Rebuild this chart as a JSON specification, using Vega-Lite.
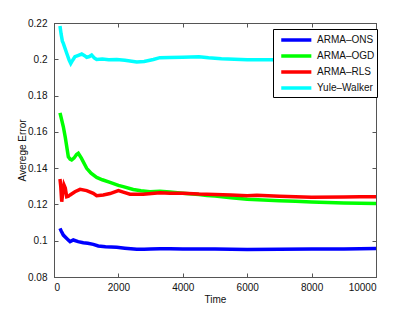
{
  "$schema": "https://vega.github.io/schema/vega-lite/v6.json",
  "width": 322,
  "height": 254,
  "autosize": "none",
  "padding": {"left": 54, "top": 23, "right": 39, "bottom": 35},
  "background": "white",
  "config": {
    "font": "Liberation Sans",
    "view": {"stroke": "#555555", "strokeWidth": 1},
    "axis": {
      "grid": false,
      "domainColor": "#555555",
      "tickColor": "#555555",
      "tickSize": -4,
      "labelFont": "Liberation Sans",
      "labelFontSize": 10,
      "labelColor": "#111111",
      "titleFont": "Liberation Sans",
      "titleFontSize": 10,
      "titleFontWeight": "normal",
      "titleColor": "#111111"
    },
    "legend": {
      "labelFont": "Liberation Sans",
      "labelFontSize": 10,
      "labelColor": "#111111"
    }
  },
  "data": {
    "values": [
      {"s": "ARMA–ONS", "t": 186, "e": 0.1068},
      {"s": "ARMA–ONS", "t": 220, "e": 0.1055},
      {"s": "ARMA–ONS", "t": 290, "e": 0.1031},
      {"s": "ARMA–ONS", "t": 380, "e": 0.1015},
      {"s": "ARMA–ONS", "t": 450, "e": 0.1003},
      {"s": "ARMA–ONS", "t": 500, "e": 0.0995},
      {"s": "ARMA–ONS", "t": 600, "e": 0.1004},
      {"s": "ARMA–ONS", "t": 750, "e": 0.0995},
      {"s": "ARMA–ONS", "t": 910, "e": 0.0989},
      {"s": "ARMA–ONS", "t": 1050, "e": 0.0986},
      {"s": "ARMA–ONS", "t": 1220, "e": 0.0980},
      {"s": "ARMA–ONS", "t": 1375, "e": 0.0971},
      {"s": "ARMA–ONS", "t": 1600, "e": 0.0967},
      {"s": "ARMA–ONS", "t": 1950, "e": 0.0964},
      {"s": "ARMA–ONS", "t": 2200, "e": 0.0959},
      {"s": "ARMA–ONS", "t": 2570, "e": 0.0953},
      {"s": "ARMA–ONS", "t": 2800, "e": 0.0953},
      {"s": "ARMA–ONS", "t": 3000, "e": 0.0954},
      {"s": "ARMA–ONS", "t": 3290, "e": 0.0956},
      {"s": "ARMA–ONS", "t": 3600, "e": 0.0956},
      {"s": "ARMA–ONS", "t": 4000, "e": 0.0954},
      {"s": "ARMA–ONS", "t": 4500, "e": 0.0955},
      {"s": "ARMA–ONS", "t": 5000, "e": 0.0955},
      {"s": "ARMA–ONS", "t": 5500, "e": 0.0953},
      {"s": "ARMA–ONS", "t": 6000, "e": 0.0951},
      {"s": "ARMA–ONS", "t": 7000, "e": 0.0953},
      {"s": "ARMA–ONS", "t": 8000, "e": 0.0955},
      {"s": "ARMA–ONS", "t": 9000, "e": 0.0955},
      {"s": "ARMA–ONS", "t": 9500, "e": 0.0956},
      {"s": "ARMA–ONS", "t": 10000, "e": 0.0957},

      {"s": "ARMA–OGD", "t": 186, "e": 0.1705},
      {"s": "ARMA–OGD", "t": 220, "e": 0.1680},
      {"s": "ARMA–OGD", "t": 290, "e": 0.1628},
      {"s": "ARMA–OGD", "t": 350, "e": 0.1570},
      {"s": "ARMA–OGD", "t": 445, "e": 0.1463},
      {"s": "ARMA–OGD", "t": 500, "e": 0.1450},
      {"s": "ARMA–OGD", "t": 550, "e": 0.1445},
      {"s": "ARMA–OGD", "t": 620, "e": 0.1455},
      {"s": "ARMA–OGD", "t": 700, "e": 0.1475},
      {"s": "ARMA–OGD", "t": 755, "e": 0.1482},
      {"s": "ARMA–OGD", "t": 850, "e": 0.1455},
      {"s": "ARMA–OGD", "t": 1015, "e": 0.1399},
      {"s": "ARMA–OGD", "t": 1150, "e": 0.1372},
      {"s": "ARMA–OGD", "t": 1325, "e": 0.1349},
      {"s": "ARMA–OGD", "t": 1500, "e": 0.1336},
      {"s": "ARMA–OGD", "t": 1740, "e": 0.1322},
      {"s": "ARMA–OGD", "t": 2000, "e": 0.1305},
      {"s": "ARMA–OGD", "t": 2150, "e": 0.1298},
      {"s": "ARMA–OGD", "t": 2460, "e": 0.1282},
      {"s": "ARMA–OGD", "t": 2700, "e": 0.1275},
      {"s": "ARMA–OGD", "t": 2980, "e": 0.1270},
      {"s": "ARMA–OGD", "t": 3290, "e": 0.1272},
      {"s": "ARMA–OGD", "t": 3600, "e": 0.1268},
      {"s": "ARMA–OGD", "t": 4000, "e": 0.1262},
      {"s": "ARMA–OGD", "t": 4500, "e": 0.1255},
      {"s": "ARMA–OGD", "t": 4750, "e": 0.1249},
      {"s": "ARMA–OGD", "t": 5000, "e": 0.1246},
      {"s": "ARMA–OGD", "t": 5500, "e": 0.1237},
      {"s": "ARMA–OGD", "t": 6000, "e": 0.1229},
      {"s": "ARMA–OGD", "t": 6500, "e": 0.1224},
      {"s": "ARMA–OGD", "t": 7000, "e": 0.1220},
      {"s": "ARMA–OGD", "t": 7500, "e": 0.1217},
      {"s": "ARMA–OGD", "t": 8000, "e": 0.1214},
      {"s": "ARMA–OGD", "t": 8500, "e": 0.1211},
      {"s": "ARMA–OGD", "t": 9000, "e": 0.1208},
      {"s": "ARMA–OGD", "t": 9500, "e": 0.1206},
      {"s": "ARMA–OGD", "t": 10000, "e": 0.1205},

      {"s": "ARMA–RLS", "t": 186, "e": 0.1340},
      {"s": "ARMA–RLS", "t": 210, "e": 0.1300},
      {"s": "ARMA–RLS", "t": 240, "e": 0.1215},
      {"s": "ARMA–RLS", "t": 270, "e": 0.1260},
      {"s": "ARMA–RLS", "t": 310, "e": 0.1307},
      {"s": "ARMA–RLS", "t": 350, "e": 0.1290},
      {"s": "ARMA–RLS", "t": 395, "e": 0.1242},
      {"s": "ARMA–RLS", "t": 450, "e": 0.1245},
      {"s": "ARMA–RLS", "t": 500, "e": 0.1252},
      {"s": "ARMA–RLS", "t": 650, "e": 0.1270},
      {"s": "ARMA–RLS", "t": 810, "e": 0.1283},
      {"s": "ARMA–RLS", "t": 1015, "e": 0.1276},
      {"s": "ARMA–RLS", "t": 1220, "e": 0.1261},
      {"s": "ARMA–RLS", "t": 1325, "e": 0.1248},
      {"s": "ARMA–RLS", "t": 1530, "e": 0.1252},
      {"s": "ARMA–RLS", "t": 1740, "e": 0.1260},
      {"s": "ARMA–RLS", "t": 2000, "e": 0.1276},
      {"s": "ARMA–RLS", "t": 2150, "e": 0.1268},
      {"s": "ARMA–RLS", "t": 2360, "e": 0.1256},
      {"s": "ARMA–RLS", "t": 2770, "e": 0.1256},
      {"s": "ARMA–RLS", "t": 3290, "e": 0.1265},
      {"s": "ARMA–RLS", "t": 3600, "e": 0.1262},
      {"s": "ARMA–RLS", "t": 4000, "e": 0.1261},
      {"s": "ARMA–RLS", "t": 4500, "e": 0.1257},
      {"s": "ARMA–RLS", "t": 5000, "e": 0.1255},
      {"s": "ARMA–RLS", "t": 5500, "e": 0.1252},
      {"s": "ARMA–RLS", "t": 6000, "e": 0.1248},
      {"s": "ARMA–RLS", "t": 6300, "e": 0.1251},
      {"s": "ARMA–RLS", "t": 7000, "e": 0.1245},
      {"s": "ARMA–RLS", "t": 8000, "e": 0.1240},
      {"s": "ARMA–RLS", "t": 9000, "e": 0.1241},
      {"s": "ARMA–RLS", "t": 9500, "e": 0.1243},
      {"s": "ARMA–RLS", "t": 10000, "e": 0.1242},

      {"s": "Yule–Walker", "t": 186, "e": 0.2183},
      {"s": "Yule–Walker", "t": 220, "e": 0.2140},
      {"s": "Yule–Walker", "t": 260, "e": 0.2100},
      {"s": "Yule–Walker", "t": 290, "e": 0.2088},
      {"s": "Yule–Walker", "t": 395, "e": 0.2033},
      {"s": "Yule–Walker", "t": 470, "e": 0.1995},
      {"s": "Yule–Walker", "t": 520, "e": 0.1977},
      {"s": "Yule–Walker", "t": 580, "e": 0.1995},
      {"s": "Yule–Walker", "t": 650, "e": 0.2014},
      {"s": "Yule–Walker", "t": 760, "e": 0.2022},
      {"s": "Yule–Walker", "t": 860, "e": 0.2029},
      {"s": "Yule–Walker", "t": 950, "e": 0.2020},
      {"s": "Yule–Walker", "t": 1015, "e": 0.2011},
      {"s": "Yule–Walker", "t": 1100, "e": 0.2015},
      {"s": "Yule–Walker", "t": 1170, "e": 0.2023},
      {"s": "Yule–Walker", "t": 1250, "e": 0.2008},
      {"s": "Yule–Walker", "t": 1325, "e": 0.1999},
      {"s": "Yule–Walker", "t": 1500, "e": 0.2001},
      {"s": "Yule–Walker", "t": 1700, "e": 0.1998},
      {"s": "Yule–Walker", "t": 1950, "e": 0.1999},
      {"s": "Yule–Walker", "t": 2200, "e": 0.1995},
      {"s": "Yule–Walker", "t": 2570, "e": 0.1985},
      {"s": "Yule–Walker", "t": 2800, "e": 0.1988},
      {"s": "Yule–Walker", "t": 3085, "e": 0.1999},
      {"s": "Yule–Walker", "t": 3290, "e": 0.2009},
      {"s": "Yule–Walker", "t": 3600, "e": 0.2010},
      {"s": "Yule–Walker", "t": 4000, "e": 0.2011},
      {"s": "Yule–Walker", "t": 4500, "e": 0.2014},
      {"s": "Yule–Walker", "t": 4800, "e": 0.2008},
      {"s": "Yule–Walker", "t": 5200, "e": 0.2003},
      {"s": "Yule–Walker", "t": 6000, "e": 0.1998},
      {"s": "Yule–Walker", "t": 7000, "e": 0.1997},
      {"s": "Yule–Walker", "t": 8000, "e": 0.1996},
      {"s": "Yule–Walker", "t": 9000, "e": 0.1996},
      {"s": "Yule–Walker", "t": 10000, "e": 0.1996}
    ]
  },
  "layer": [
    {
      "mark": {"type": "line", "strokeWidth": 3.5, "clip": true},
      "encoding": {
        "x": {
          "field": "t", "type": "quantitative",
          "scale": {"domain": [0, 10000], "nice": false},
          "axis": {"values": [0, 2000, 4000, 6000, 8000, 10000], "format": "d", "title": "Time", "labelPadding": 9, "titlePadding": 2}
        },
        "y": {
          "field": "e", "type": "quantitative",
          "scale": {"domain": [0.08, 0.22], "nice": false, "zero": false},
          "axis": {"values": [0.08, 0.1, 0.12, 0.14, 0.16, 0.18, 0.2, 0.22], "format": ".2~f", "title": "Averege Error", "labelPadding": 11, "titlePadding": 0}
        },
        "color": {
          "field": "s", "type": "nominal",
          "scale": {"domain": ["ARMA–ONS", "ARMA–OGD", "ARMA–RLS", "Yule–Walker"], "range": ["#0000ff", "#00ff00", "#ff0000", "#00ffff"]},
          "legend": {
            "title": null,
            "orient": "none",
            "legendX": 219,
            "legendY": 6,
            "symbolType": "M-2.15,0H2.15",
            "symbolSize": 196,
            "symbolStrokeWidth": 3.5,
            "strokeColor": "#000000",
            "fillColor": "#ffffff",
            "padding": 2,
            "rowPadding": -0.3,
            "labelOffset": 11.7,
            "symbolOffset": 12.3
          }
        }
      }
    },
    {
      "mark": {"type": "point", "opacity": 0},
      "encoding": {
        "x": {
          "field": "t", "type": "quantitative",
          "axis": {"orient": "top", "values": [0, 2000, 4000, 6000, 8000, 10000], "labels": false, "title": null}
        },
        "y": {
          "field": "e", "type": "quantitative",
          "axis": {"orient": "right", "values": [0.08, 0.1, 0.12, 0.14, 0.16, 0.18, 0.2, 0.22], "labels": false, "title": null}
        }
      }
    }
  ],
  "resolve": {"axis": {"x": "independent", "y": "independent"}}
}
